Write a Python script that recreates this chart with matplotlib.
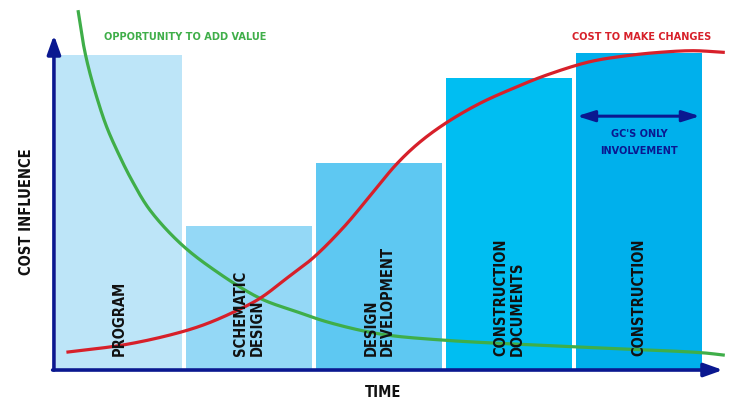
import matplotlib.pyplot as plt
import numpy as np

plt.rcParams['font.family'] = ['DejaVu Sans']
plt.rcParams['font.stretch'] = 'condensed'

# ---------------- datos ----------------
fases = ['PROGRAM', 'SCHEMATIC\nDESIGN', 'DESIGN\nDEVELOPMENT',
         'CONSTRUCTION\nDOCUMENTS', 'CONSTRUCTION']
influencia = [94.0, 42.8, 61.7, 87.1, 94.6]
colores = ['#bde5f8', '#94d8f6', '#5ec8f2', '#00bef2', '#00b0ec']

# curva verde: oportunidad de agregar valor
opp_x = [0.187, 0.225, 0.264, 0.328, 0.405, 0.495, 0.598, 0.738, 0.969,
         1.2, 1.585, 1.867, 2.123, 2.508, 2.982, 3.982, 4.982, 5.148]
opp_y = [106.97, 97.52, 90.51, 81.53, 72.54, 64.58, 56.59, 47.6, 37.72,
         30.54, 21.17, 17.16, 13.86, 10.48, 8.68, 6.68, 4.88, 4.19]

# curva roja: costo de hacer cambios
cost_x = [0.108, 0.531, 0.892, 1.148, 1.405, 1.585, 1.790, 1.992, 2.223,
          2.431, 2.636, 2.815, 3.021, 3.277, 3.533, 3.790, 4.123,
          4.405, 4.662, 4.918, 5.148]
cost_y = [5.09, 7.19, 10.18, 13.17, 17.46, 21.17, 27.16, 33.23, 42.22,
          51.80, 61.38, 67.96, 73.80, 79.55, 84.04, 88.02, 92.01,
          93.80, 94.82, 95.30, 94.82]

navy = '#0a1890'
verde = '#3fae49'
rojo = '#d7202a'


# trazo suave (catmull-rom centripeto) entre los puntos leidos, solo para dibujar
def suave(xs, ys, n=24):
    p = np.column_stack([xs, ys]).astype(float) * [1.0, 0.04]
    p = np.vstack([2 * p[0] - p[1], p, 2 * p[-1] - p[-2]])
    out = []
    for i in range(1, len(p) - 2):
        p0, p1, p2, p3 = p[i - 1], p[i], p[i + 1], p[i + 2]
        t0 = 0.0
        t1 = t0 + np.linalg.norm(p1 - p0) ** 0.5
        t2 = t1 + np.linalg.norm(p2 - p1) ** 0.5
        t3 = t2 + np.linalg.norm(p3 - p2) ** 0.5
        t = np.linspace(t1, t2, n, endpoint=False)[:, None]
        a1 = (t1 - t) / (t1 - t0) * p0 + (t - t0) / (t1 - t0) * p1
        a2 = (t2 - t) / (t2 - t1) * p1 + (t - t1) / (t2 - t1) * p2
        a3 = (t3 - t) / (t3 - t2) * p2 + (t - t2) / (t3 - t2) * p3
        b1 = (t2 - t) / (t2 - t0) * a1 + (t - t0) / (t2 - t0) * a2
        b2 = (t3 - t) / (t3 - t1) * a2 + (t - t1) / (t3 - t1) * a3
        out.append((t2 - t) / (t2 - t1) * b1 + (t - t1) / (t2 - t1) * b2)
    out.append(p[-2][None, :])
    out = np.vstack(out) / [1.0, 0.04]
    return out[:, 0], out[:, 1]


# ---------------- figura ----------------
fig = plt.figure(figsize=(7.5, 4.12), dpi=100)
ax = fig.add_axes([0, 0, 1, 1])
ax.set_xlim(-0.415, 5.354)
ax.set_ylim(-12.87, 110.48)
ax.axis('off')

xpos = np.arange(len(fases)) + 0.5
ax.bar(xpos, influencia, width=0.97, color=colores, zorder=1)

# etiquetas verticales de las fases
for x, f in zip(xpos, fases):
    ax.text(x, 4.0, f, rotation=90, ha='center', va='bottom',
            multialignment='left', fontsize=10.5, fontweight='bold',
            color='#111111', linespacing=1.1, zorder=4)

gx, gy = suave(opp_x, opp_y)
rx, ry = suave(cost_x, cost_y)
ax.plot(gx, gy, color=verde, lw=2.3, zorder=3, clip_on=False)
ax.plot(rx, ry, color=rojo, lw=2.3, zorder=3)

# ejes con flechas
ax.annotate('', xy=(0, 100), xytext=(0, -0.3),
            arrowprops=dict(arrowstyle='-|>,head_length=0.7,head_width=0.25',
                            color=navy, lw=2.6, mutation_scale=16,
                            shrinkA=0, shrinkB=0), zorder=5)
ax.annotate('', xy=(5.146, -0.3), xytext=(-0.01, -0.3),
            arrowprops=dict(arrowstyle='-|>,head_length=0.7,head_width=0.25',
                            color=navy, lw=2.6, mutation_scale=16,
                            shrinkA=0, shrinkB=0), zorder=5)

# flecha doble GC
ax.annotate('', xy=(4.969, 75.7), xytext=(4.023, 75.7),
            arrowprops=dict(arrowstyle='<|-|>,head_length=0.7,head_width=0.22',
                            color=navy, lw=2.2, mutation_scale=15,
                            shrinkA=0, shrinkB=0), zorder=5)
ax.text(4.5, 67.8, "GC'S ONLY\nINVOLVEMENT", ha='center', va='center',
        fontsize=7.8, fontweight='bold', color=navy, linespacing=1.95)

# textos
ax.text(0.385, 99.4, 'OPPORTUNITY TO ADD VALUE', ha='left', va='center',
        fontsize=7.8, fontweight='bold', color=verde)
ax.text(5.054, 99.4, 'COST TO MAKE CHANGES', ha='right', va='center',
        fontsize=7.8, fontweight='bold', color=rojo)
ax.text(-0.208, 47, 'COST INFLUENCE', rotation=90, ha='center', va='center',
        fontsize=10.5, fontweight='bold', color='#111111')
ax.text(2.53, -7, 'TIME', ha='center', va='center',
        fontsize=10.5, fontweight='bold', color='#111111')

plt.savefig('out.png', dpi=100)
